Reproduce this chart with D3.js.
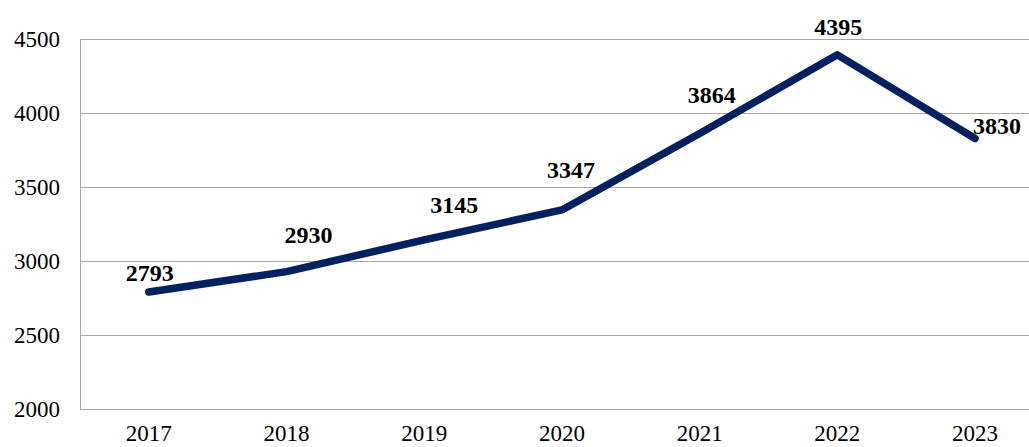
<!DOCTYPE html>
<html><head><meta charset="utf-8">
<script src="https://cdn.jsdelivr.net/npm/d3@7"></script>
<style>html,body{margin:0;padding:0;background:#fff;overflow:hidden}</style>
</head><body>
<svg id="c" width="1029" height="447"></svg>
<script>
const years = ["2017","2018","2019","2020","2021","2022","2023"];
const values = [2793, 2930, 3145, 3347, 3864, 4395, 3830];
const yTicks = [2000, 2500, 3000, 3500, 4000, 4500];
// label placement offsets (dx, dy from point), style only
const labelDx = [1, 22, 30, 9, 12, 1, -2];
const labelDy = [-11, -29, -27, -32, -30, -20, -4];
const labelAnchor = ["middle","middle","middle","middle","middle","middle","start"];

const svg = d3.select("#c");
const mLeft = 80, mTop = 39.3, mBottom = 409.3;
const x = d3.scaleBand().domain(years).range([mLeft, mLeft + 7 * 137.7]);
const y = d3.scaleLinear().domain([2000, 4500]).range([mBottom, mTop]);
const grid = "#a6a6a6";

svg.append("g").selectAll("line").data(yTicks).join("line")
  .attr("x1", mLeft).attr("x2", 1029)
  .attr("y1", d => Math.round(y(d)) + 0.5).attr("y2", d => Math.round(y(d)) + 0.5)
  .attr("stroke", grid).attr("stroke-width", 1);

svg.append("line").attr("x1", mLeft + 0.5).attr("x2", mLeft + 0.5)
  .attr("y1", Math.round(mTop) + 0.5).attr("y2", Math.round(mBottom) + 0.5)
  .attr("stroke", grid).attr("stroke-width", 1);

svg.append("g").selectAll("text").data(yTicks).join("text")
  .attr("x", 60).attr("y", d => y(d)).attr("dy", "0.34em")
  .attr("text-anchor", "end")
  .style("font-family", "'Liberation Serif','Times New Roman',serif")
  .style("font-size", "23px").attr("fill", "#000")
  .text(d => d);

svg.append("g").selectAll("text").data(years).join("text")
  .attr("x", d => x(d) + x.bandwidth() / 2).attr("y", 441)
  .attr("text-anchor", "middle")
  .style("font-family", "'Liberation Serif','Times New Roman',serif")
  .style("font-size", "23px").attr("fill", "#000")
  .text(d => d);

const line = d3.line().x((d, i) => x(years[i]) + x.bandwidth() / 2).y(d => y(d));
svg.append("path").datum(values).attr("d", line)
  .attr("fill", "none").attr("stroke", "#002060").attr("stroke-width", 7.5)
  .attr("stroke-linecap", "round").attr("stroke-linejoin", "round");

svg.append("g").selectAll("text").data(values).join("text")
  .attr("x", (d, i) => x(years[i]) + x.bandwidth() / 2 + labelDx[i])
  .attr("y", (d, i) => y(d) + labelDy[i])
  .attr("text-anchor", (d, i) => labelAnchor[i])
  .style("font-family", "'Liberation Serif','Times New Roman',serif")
  .style("font-size", "24px").style("font-weight", "bold").attr("fill", "#000")
  .text(d => d);
</script>
</body></html>
